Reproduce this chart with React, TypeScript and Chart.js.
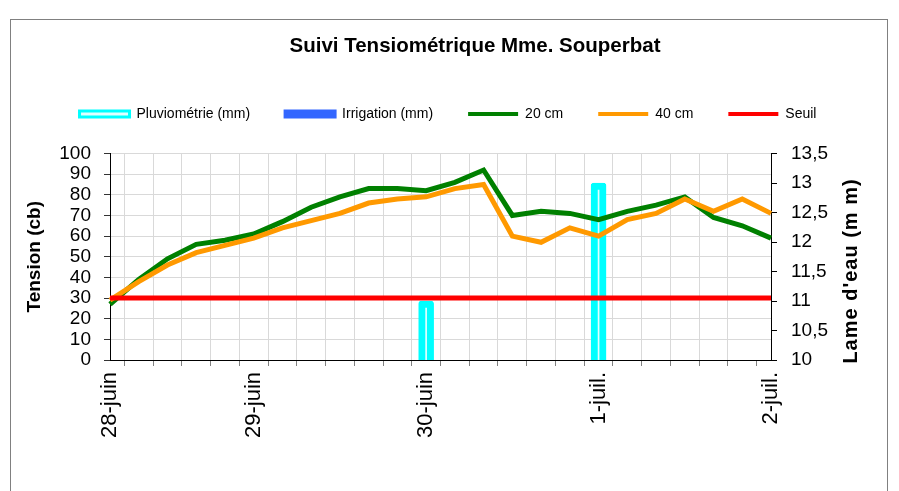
import React, { useEffect, useRef } from 'react';
import { Chart, registerables } from 'chart.js';

Chart.register(...registerables);

// ---------- data ----------
const chartTitle = 'Suivi Tensiométrique Mme. Souperbat';
const leftAxisTitle = 'Tension (cb)';
const rightAxisTitle = "Lame d'eau (m m)";

const categories = [
  '28-juin', '', '', '', '', '29-juin', '', '', '', '', '', '30-juin',
  '', '', '', '', '', '1-juil.', '', '', '', '', '', '2-juil.',
];

const tension20cm = [27, 39, 49, 56, 58, 61, 67, 74, 79, 83, 83, 82, 86, 92, 70, 72, 71, 68, 72, 75, 79, 69, 65, 59];
const tension40cm = [29, 38, 46, 52, 55.5, 59, 64, 67.5, 71, 76, 78, 79, 83, 85, 60, 57, 64, 60, 68, 71, 78, 72, 78, 71];
const seuil = [30, 30, 30, 30, 30, 30, 30, 30, 30, 30, 30, 30, 30, 30, 30, 30, 30, 30, 30, 30, 30, 30, 30, 30];
const pluviometrie = [null, null, null, null, null, null, null, null, null, null, null, 11, null, null, null, null, null, 13, null, null, null, null, null, null];
const irrigation = [null, null, null, null, null, null, null, null, null, null, null, null, null, null, null, null, null, null, null, null, null, null, null, null];

const leftAxisRange = { min: 0, max: 100, step: 10 };
const rightAxisRange = { min: 10, max: 13.5, step: 0.5 };

const FONT = 'Arial, "Liberation Sans", sans-serif';

const textPlugin = {
  id: 'extraTexts',
  afterDraw(chart: any) {
    const ctx = chart.ctx;
    ctx.save();
    ctx.fillStyle = '#000';
    ctx.font = `bold 20.5px ${FONT}`;
    ctx.textAlign = 'center';
    ctx.textBaseline = 'alphabetic';
    ctx.fillText(chartTitle, 475, 52);
    ctx.restore();

    ctx.save();
    ctx.fillStyle = '#000';
    ctx.translate(851, 271);
    ctx.rotate(-Math.PI / 2);
    ctx.font = `bold 20px ${FONT}`;
    try { (ctx as any).letterSpacing = '1px'; } catch (e) {}
    ctx.textAlign = 'center';
    ctx.textBaseline = 'middle';
    ctx.fillText(rightAxisTitle, 0, 0);
    ctx.restore();
  },
};

export default function App() {
  const canvasRef = useRef<HTMLCanvasElement | null>(null);

  useEffect(() => {
    if (!canvasRef.current) return;
    Chart.defaults.font.family = FONT;
    Chart.defaults.color = '#000';

    const chart = new Chart(canvasRef.current, {
      type: 'line',
      data: {
        labels: categories,
        datasets: [
          {
            type: 'bar',
            label: 'Pluviométrie (mm)',
            data: pluviometrie as any,
            yAxisID: 'y1',
            backgroundColor: '#e0ffff',
            borderColor: '#00ffff',
            borderWidth: 7,
            borderSkipped: false,
            borderRadius: 3,
            barThickness: 15,
            grouped: false,
            order: 5,
          } as any,
          {
            type: 'bar',
            label: 'Irrigation (mm)',
            data: irrigation as any,
            yAxisID: 'y1',
            backgroundColor: '#3366ff',
            borderColor: '#3366ff',
            borderWidth: 0,
            barThickness: 15,
            grouped: false,
            order: 4,
          } as any,
          {
            label: '20 cm',
            data: tension20cm,
            yAxisID: 'y',
            borderColor: '#008000',
            backgroundColor: '#008000',
            borderWidth: 5,
            pointRadius: 0,
            tension: 0,
            order: 3,
          },
          {
            label: '40 cm',
            data: tension40cm,
            yAxisID: 'y',
            borderColor: '#ff9900',
            backgroundColor: '#ff9900',
            borderWidth: 5,
            pointRadius: 0,
            tension: 0,
            order: 2,
          },
          {
            label: 'Seuil',
            data: seuil,
            yAxisID: 'y',
            borderColor: '#ff0000',
            backgroundColor: '#ff0000',
            borderWidth: 5,
            pointRadius: 0,
            tension: 0,
            order: 1,
          },
        ],
      },
      options: {
        responsive: false,
        animation: false,
        events: [],
        layout: { padding: { left: 10, right: 13, top: 72, bottom: 0 } },
        plugins: {
          title: { display: false },
          tooltip: { enabled: false },
          legend: {
            display: true,
            position: 'top',
            labels: {
              usePointStyle: true,
              pointStyleWidth: 50,
              boxHeight: 6,
              padding: 35,
              color: '#000',
              font: { size: 14 },
              sort: (a: any, b: any) => a.datasetIndex - b.datasetIndex,
              generateLabels: (c: any) => {
                const items = (Chart.defaults.plugins.legend.labels as any).generateLabels(c);
                return items.map((it: any) => {
                  const ds: any = c.data.datasets[it.datasetIndex];
                  if (ds.type === 'bar') {
                    it.pointStyle = 'rect';
                    it.lineWidth = 3;
                  } else {
                    it.pointStyle = 'line';
                    it.lineWidth = 4;
                  }
                  return it;
                });
              },
            },
          },
        },
        scales: {
          x: {
            type: 'category',
            offset: false,
            position: 'bottom',
            grid: {
              color: (ctx: any) => (ctx.index === 0 || ctx.index === categories.length - 1 ? 'rgba(0,0,0,0)' : '#d9d9d9'),
              tickColor: '#808080',
              tickLength: 6,
              drawOnChartArea: true,
            },
            border: { display: true, color: '#000', width: 1 },
            ticks: {
              autoSkip: false,
              minRotation: 90,
              maxRotation: 90,
              padding: 6,
              color: '#000',
              font: { size: 22 },
            },
            afterFit: (s: any) => { s.height = 131; },
          },
          xTop: {
            type: 'category',
            position: 'top',
            display: true,
            grid: { display: false, drawTicks: false },
            border: { display: false },
            ticks: { display: false },
            afterFit: (s: any) => { s.height = 22.5; },
          },
          y: {
            type: 'linear',
            position: 'left',
            min: leftAxisRange.min,
            max: leftAxisRange.max,
            ticks: { stepSize: leftAxisRange.step, autoSkip: false, padding: 13, color: '#000', font: { size: 19 } },
            grid: {
              color: (ctx: any) => (ctx.tick && ctx.tick.value === 0 ? 'rgba(0,0,0,0)' : '#d9d9d9'),
              tickColor: '#333',
              tickLength: 6,
            },
            border: { display: true, color: '#000', width: 1 },
            title: {
              display: true,
              text: leftAxisTitle,
              color: '#000',
              font: { size: 19, weight: 'bold' },
              padding: { top: 13.5, bottom: 0 },
            },
            afterFit: (s: any) => { s.width = 100; },
          },
          y1: {
            type: 'linear',
            position: 'right',
            min: rightAxisRange.min,
            max: rightAxisRange.max,
            ticks: {
              stepSize: rightAxisRange.step,
              autoSkip: false,
              padding: 14,
              color: '#000',
              font: { size: 19 },
              callback: (v: any) => String(v).replace('.', ','),
            },
            grid: { drawOnChartArea: false, tickColor: '#000', tickLength: 6 },
            border: { display: true, color: '#000', width: 1 },
            afterFit: (s: any) => { s.width = 115; },
          },
        } as any,
      },
      plugins: [textPlugin],
    } as any);

    return () => chart.destroy();
  }, []);

  return (
    <div style={{ position: 'fixed', left: 0, top: 0, width: 899, height: 491, background: '#fff', overflow: 'hidden' }}>
      <div
        style={{
          position: 'absolute',
          left: 10,
          top: 19,
          width: 878,
          height: 500,
          border: '1px solid #808080',
          boxSizing: 'border-box',
        }}
      />
      <canvas
        ref={canvasRef}
        width={899}
        height={491}
        style={{ position: 'absolute', left: 0, top: 0, width: 899, height: 491 }}
      />
    </div>
  );
}
